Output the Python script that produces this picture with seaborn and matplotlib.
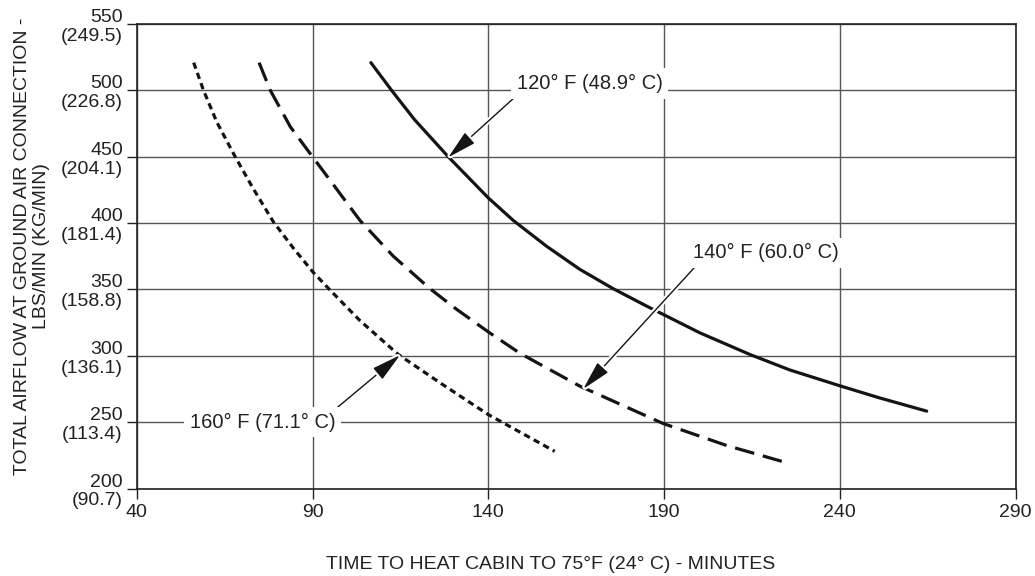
import matplotlib
matplotlib.use("Agg")
import matplotlib.pyplot as plt
import matplotlib.patheffects as pe
import pandas as pd
import seaborn as sns

# ---- data ----
x_120 = [106.6, 112.5, 119.0, 128.6, 140.0, 147.1, 156.6, 166.0, 175.5, 185.0,
         200.1, 214.4, 225.8, 240.0, 251.0, 264.7]
y_120 = [520.9, 500.0, 478.0, 450.0, 419.0, 402.0, 382.5, 365.2, 350.6, 337.5,
         317.4, 301.0, 289.3, 277.4, 268.5, 258.3]
x_140 = [74.8, 78.0, 83.7, 90.0, 96.9, 103.5, 113.0, 123.4, 131.0, 140.0, 149.0,
         166.0, 189.7, 207.8, 225.8]
y_140 = [520.9, 500.0, 472.5, 450.0, 425.5, 402.0, 375.0, 350.6, 335.0, 318.0, 301.9,
         277.2, 249.0, 232.4, 218.7]
x_160 = [56.2, 59.0, 62.8, 68.0, 73.2, 78.9, 84.6, 90.0, 95.0, 103.5, 114.4,
         126.3, 140.0, 158.9]
y_160 = [520.9, 500.0, 476.0, 450.0, 425.7, 400.8, 381.0, 363.5, 349.5, 326.5, 301.0,
         279.6, 255.7, 228.0]

x_ticks = [40, 90, 140, 190, 240, 290]
y_ticks = [200, 250, 300, 350, 400, 450, 500, 550]
y_tick_labels = ["200\n(90.7)", "250\n(113.4)", "300\n(136.1)", "350\n(158.8)",
                 "400\n(181.4)", "450\n(204.1)", "500\n(226.8)", "550\n(249.5)"]

label_120 = "120° F (48.9° C)"
label_140 = "140° F (60.0° C)"
label_160 = "160° F (71.1° C)"
x_label = "TIME TO HEAT CABIN TO 75°F (24° C) - MINUTES"
y_label = "TOTAL AIRFLOW AT GROUND AIR CONNECTION -\nLBS/MIN (KG/MIN)"

sns.set_style("white")
plt.rcParams["font.family"] = ["Liberation Sans", "DejaVu Sans"]

fig = plt.figure(figsize=(10.35, 5.76), dpi=100)
ax = fig.add_axes([0.1321, 0.1519, 0.8492, 0.8064])

df120 = pd.DataFrame({"x": x_120, "y": y_120})
df140 = pd.DataFrame({"x": x_140, "y": y_140})
df160 = pd.DataFrame({"x": x_160, "y": y_160})

ink = "#141414"
sns.lineplot(data=df120, x="x", y="y", ax=ax, color=ink, lw=2.3,
             sort=False, estimator=None, zorder=3)
sns.lineplot(data=df140, x="x", y="y", ax=ax, color=ink, lw=2.3,
             sort=False, estimator=None, zorder=3)
ax.lines[-1].set_dashes([6.2, 2.8])
sns.lineplot(data=df160, x="x", y="y", ax=ax, color=ink, lw=2.3,
             sort=False, estimator=None, zorder=3)
ax.lines[-1].set_dashes([2.0, 1.4])
for ln in ax.lines:
    ln.set_solid_joinstyle("round")
    ln.set_dash_joinstyle("round")

ax.set_xlim(40, 290)
ax.set_ylim(200, 550)
ax.set_xticks(x_ticks)
ax.set_xticklabels([str(t) for t in x_ticks])
ax.set_yticks(y_ticks)
ax.set_yticklabels(y_tick_labels, multialignment="right", linespacing=1.15)

ax.grid(True, color="#555555", lw=1.0)
ax.set_axisbelow(True)
for s in ax.spines.values():
    s.set_color("#222222")
    s.set_linewidth(1.2)

ax.tick_params(axis="y", length=7, width=1.0, pad=3, labelsize=14, colors="#222222",
               direction="out", left=True)
ax.tick_params(axis="x", length=7, width=1.0, pad=4, labelsize=14, colors="#222222",
               direction="out", bottom=True)

ax.set_xlabel(x_label, fontsize=14, color="#222222")
ax.xaxis.set_label_coords(0.471, -0.146)
ax.set_ylabel(y_label, fontsize=14, color="#222222", linespacing=1.1)
ax.yaxis.set_label_coords(-0.099, 0.522)

arrow_kw = dict(arrowstyle="-|>,head_length=1.3,head_width=0.32", color=ink,
                lw=1.0, mutation_scale=14, shrinkA=0, shrinkB=0)

bbox = dict(facecolor="white", edgecolor="none", pad=4)
ax.text(168.9, 505.3, label_120, fontsize=14.5, ha="center", va="center",
        color="#222222", bbox=bbox, zorder=5)
ax.text(219.0, 377.6, label_140, fontsize=14.5, ha="center", va="center",
        color="#222222", bbox=bbox, zorder=5)
ax.text(75.8, 250.0, label_160, fontsize=14.5, ha="center", va="center",
        color="#222222", bbox=bbox, zorder=5)

a1 = ax.annotate("", xy=(128.6, 449.5), xytext=(148.1, 496.2), arrowprops=arrow_kw, zorder=4)
a2 = ax.annotate("", xy=(167.0, 275.0), xytext=(198.8, 367.0), arrowprops=arrow_kw, zorder=4)
a3 = ax.annotate("", xy=(114.9, 300.5), xytext=(96.9, 260.7), arrowprops=arrow_kw, zorder=4)
for a in (a1, a2, a3):
    a.arrow_patch.set_path_effects([pe.Stroke(linewidth=4, foreground="white"), pe.Normal()])

fig.savefig("out.png", dpi=100, facecolor="white")
